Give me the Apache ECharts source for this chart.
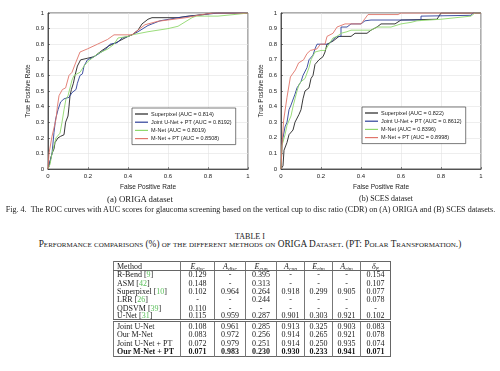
<!DOCTYPE html>
<html><head><meta charset="utf-8">
<script src="https://cdn.jsdelivr.net/npm/echarts@6/dist/echarts.min.js"></script>
<style>
html,body{margin:0;padding:0;background:#fff;width:500px;height:371px;overflow:hidden;-webkit-font-smoothing:antialiased;}
#chart{position:absolute;left:0;top:0;width:500px;height:196px;}
.cap{position:absolute;font-family:'Liberation Serif','DejaVu Serif',serif;color:#222;white-space:nowrap;line-height:1;transform:translate(-50%,-50%);}
#tbl{position:absolute;left:113px;top:261px;border-collapse:collapse;font-family:'Liberation Serif',serif;font-size:8px;color:#1a1a1a;table-layout:fixed;border:1px solid #666;will-change:transform;}
#tbl td{border-left:1px solid #777;padding:0;line-height:7px;text-align:center;white-space:nowrap;overflow:hidden;}
#tbl td.m{text-align:left;padding-left:3px;}
#tbl tr.h td{border-bottom:1px solid #666;}
#tbl tr.dbl td{border-bottom:3px double #666;}
#tbl sub{font-size:5.5px;vertical-align:-1.5px;line-height:0;}
#tbl .c{color:#5cc05c;}
#tbl tr.b td{font-weight:bold;}
</style></head>
<body>
<div id="chart"></div>
<div class="cap" id="capA" style="left:140px;top:199px;">(a) ORIGA dataset</div>
<div class="cap" id="capB" style="left:386px;top:199px;">(b) SCES dataset</div>
<div class="cap" id="figcap" style="left:250.5px;top:210px;">Fig. 4.&nbsp;&nbsp;The ROC curves with AUC scores for glaucoma screening based on the vertical cup to disc ratio (CDR) on (A) ORIGA and (B) SCES datasets.</div>
<div class="cap" id="tabt" style="left:250px;top:237px;">TABLE I</div>
<div class="cap" id="tabc" style="left:250px;top:244.5px;font-variant:small-caps;">Performance comparisons (%) of the different methods on ORIGA Dataset. (PT: Polar Transformation.)</div>
<table id="tbl"></table>
<script>
// ---------- ROC data: ORIGA ----------
const origaSuperFpr = [0,0.005,0.02,0.03,0.035,0.05,0.063,0.08,0.088,0.1,0.105,0.11,0.117,0.127,0.135,0.147,0.163,0.197,0.23,0.25,0.27,0.305,0.34,0.37,0.4,0.42,0.45,0.47,0.5,0.52,0.65,0.7,0.78,0.82,1];
const origaSuperTpr = [0,0.01,0.1,0.13,0.17,0.2,0.21,0.22,0.3,0.34,0.4,0.47,0.51,0.55,0.6,0.66,0.7,0.71,0.72,0.74,0.76,0.79,0.81,0.83,0.85,0.86,0.89,0.93,0.96,0.97,0.97,0.98,0.99,1,1];
const origaJointFpr = [0,0.005,0.02,0.03,0.038,0.05,0.063,0.08,0.105,0.12,0.14,0.147,0.16,0.172,0.18,0.197,0.23,0.255,0.29,0.31,0.347,0.37,0.4,0.42,0.45,0.5,0.56,0.65,0.78,0.85,1];
const origaJointTpr = [0,0.02,0.1,0.235,0.32,0.38,0.43,0.45,0.46,0.49,0.51,0.55,0.6,0.61,0.66,0.7,0.72,0.74,0.77,0.8,0.81,0.84,0.85,0.86,0.88,0.92,0.95,0.97,0.99,1,1];
const origaMnetFpr = [0,0.01,0.02,0.03,0.04,0.06,0.07,0.08,0.09,0.1,0.11,0.12,0.13,0.16,0.18,0.2,0.25,0.3,0.33,0.35,0.4,0.42,0.5,0.6,0.65,0.72,0.74,0.85,0.93,1];
const origaMnetTpr = [0,0.03,0.1,0.15,0.2,0.23,0.3,0.38,0.45,0.47,0.52,0.57,0.6,0.62,0.66,0.69,0.74,0.77,0.8,0.84,0.85,0.86,0.88,0.9,0.915,0.97,0.98,0.98,0.99,1];
const origaMnetPtFpr = [0,0.005,0.02,0.04,0.047,0.055,0.072,0.088,0.105,0.12,0.138,0.16,0.197,0.247,0.297,0.33,0.42,0.45,0.485,0.55,0.69,0.77,0.83,1];
const origaMnetPtTpr = [0,0.1,0.21,0.32,0.4,0.47,0.51,0.52,0.6,0.62,0.68,0.75,0.77,0.8,0.83,0.86,0.86,0.89,0.925,0.947,0.97,0.99,1,1];
// ---------- ROC data: SCES ----------
const scesSuperFpr = [0,0.01,0.015,0.03,0.04,0.06,0.07,0.09,0.1,0.11,0.12,0.14,0.15,0.16,0.17,0.19,0.21,0.22,0.23,0.26,0.29,0.35,0.37,0.43,0.45,0.48,0.5,0.57,0.6,0.78,0.8,1];
const scesSuperTpr = [0,0.02,0.12,0.17,0.22,0.25,0.3,0.35,0.38,0.45,0.5,0.52,0.58,0.6,0.67,0.7,0.72,0.75,0.8,0.82,0.85,0.85,0.87,0.87,0.89,0.91,0.93,0.93,0.955,0.96,1,1];
const scesJointFpr = [0,0.005,0.01,0.02,0.03,0.04,0.05,0.06,0.07,0.08,0.1,0.11,0.13,0.14,0.16,0.17,0.18,0.2,0.24,0.26,0.28,0.3,0.3,0.33,0.35,0.4,0.42,0.45,0.7,0.7,0.95,0.96,1];
const scesJointTpr = [0,0.15,0.2,0.27,0.3,0.38,0.41,0.42,0.48,0.52,0.56,0.6,0.65,0.7,0.73,0.77,0.8,0.8,0.8,0.83,0.85,0.85,0.91,0.91,0.93,0.93,0.95,0.955,0.955,0.98,0.985,1,1];
const scesMnetFpr = [0,0.005,0.02,0.03,0.05,0.06,0.07,0.08,0.09,0.1,0.12,0.14,0.15,0.17,0.2,0.22,0.24,0.26,0.28,0.3,0.33,0.35,0.45,0.48,0.55,0.6,0.65,0.68,0.8,0.95,0.97,1];
const scesMnetTpr = [0,0.15,0.22,0.28,0.34,0.4,0.45,0.5,0.54,0.56,0.58,0.65,0.7,0.75,0.76,0.76,0.8,0.84,0.85,0.87,0.88,0.89,0.89,0.91,0.91,0.93,0.94,0.95,0.96,0.98,1,1];
const scesMnetPtFpr = [0,0.005,0.013,0.03,0.047,0.072,0.088,0.113,0.13,0.147,0.18,0.197,0.22,0.23,0.26,0.28,0.32,0.4,0.41,0.435,0.585,0.6,1];
const scesMnetPtTpr = [0,0.15,0.31,0.46,0.59,0.635,0.68,0.7,0.74,0.76,0.77,0.8,0.8,0.85,0.87,0.91,0.93,0.93,0.947,0.99,0.99,1,1];
// ---------- series names / tick labels ----------
const origaNames = ['Superpixel (AUC = 0.814)','Joint U-Net + PT (AUC = 0.8192)','M-Net (AUC = 0.8019)','M-Net + PT (AUC = 0.8508)'];
const scesNames = ['Superpixel (AUC = 0.822)','Joint U-Net + PT (AUC = 0.8612)','M-Net (AUC = 0.8396)','M-Net + PT (AUC = 0.8998)'];
const xTickLabels = ['0','0.2','0.4','0.6','0.8','1'];
const yTickLabels = ['0','0.1','0.2','0.3','0.4','0.5','0.6','0.7','0.8','0.9','1'];
// ---------- table data ----------
const methods = ['R-Bend','ASM','Superpixel','LRR','QDSVM','U-Net','Joint U-Net','Our M-Net','Joint U-Net + PT','Our M-Net + PT'];
const cites = ['9','42','10','26','39','31','','','',''];
const eDisc = ['0.129','0.148','0.102','-','0.110','0.115','0.108','0.083','0.072','0.071'];
const aDisc = ['-','-','0.964','-','-','0.959','0.961','0.972','0.979','0.983'];
const eCup = ['0.395','0.313','0.264','0.244','-','0.287','0.285','0.256','0.251','0.230'];
const aCup = ['-','-','0.918','-','-','0.901','0.913','0.914','0.914','0.930'];
const eRim = ['-','-','0.299','-','-','0.303','0.325','0.265','0.250','0.233'];
const aRim = ['-','-','0.905','-','-','0.921','0.903','0.921','0.935','0.941'];
const deltaE = ['0.154','0.107','0.077','0.078','-','0.102','0.083','0.078','0.074','0.071'];

const colors = ['#222222','#2d3f98','#8fd86c','#e0756a'];
const zip = (a,b)=>a.map((v,i)=>[v,b[i]]);
const FONT = "'Liberation Sans', Arial, sans-serif";

function axes(i){
  const common = {
    type:'value', gridIndex:i, min:0, max:1, nameLocation:'middle',
    axisLine:{show:true,lineStyle:{color:'#333',width:0.8}},
    axisTick:{show:true,inside:true,length:2,lineStyle:{color:'#333',width:0.6}},
    splitLine:{show:true,lineStyle:{color:'#e2e2e2',width:0.6}},
    nameTextStyle:{fontSize:6.5,color:'#222',fontFamily:FONT}
  };
  return {
    x: Object.assign({}, common, {interval:0.2, name:'False Positive Rate', nameGap:11,
      axisLabel:{fontSize:6,color:'#222',margin:4,fontFamily:FONT,showMinLabel:true,showMaxLabel:true,formatter:v=>xTickLabels[Math.round(v/0.2)]}}),
    y: Object.assign({}, common, {interval:0.1, name:'True Positive Rate', nameGap:16,
      axisLabel:{fontSize:6,color:'#222',margin:4,fontFamily:FONT,showMinLabel:true,showMaxLabel:true,formatter:v=>yTickLabels[Math.round(v*10)]}})
  };
}
const a0 = axes(0), a1 = axes(1);
const datasets = [
  [zip(origaSuperFpr,origaSuperTpr),zip(origaJointFpr,origaJointTpr),zip(origaMnetFpr,origaMnetTpr),zip(origaMnetPtFpr,origaMnetPtTpr)],
  [zip(scesSuperFpr,scesSuperTpr),zip(scesJointFpr,scesJointTpr),zip(scesMnetFpr,scesMnetTpr),zip(scesMnetPtFpr,scesMnetPtTpr)]
];
const names = [origaNames, scesNames];
const series = [];
for (let g=0; g<2; g++){
  for (let k=0;k<4;k++){
    series.push({type:'line', name:names[g][k], xAxisIndex:g, yAxisIndex:g, data:datasets[g][k],
      symbol:'none', lineStyle:{color:colors[k],width:0.9}, itemStyle:{color:colors[k]}, z:2+k, animation:false});
  }
}
const legendBase = {orient:'vertical', backgroundColor:'#fff', borderColor:'#444', borderWidth:0.7,
  padding:[3,4,3,3], itemGap:2.2, itemWidth:13, itemHeight:1.2, icon:'rect',
  textStyle:{fontSize:5.5,color:'#222',fontFamily:FONT,padding:[0,0,0,-2]}};
const chart = echarts.init(document.getElementById('chart'), null, {renderer:'canvas'});
chart.setOption({
  animation:false,
  grid:[
    {left:48, top:13, width:200, height:157, show:true, borderColor:'#333', borderWidth:0.8, backgroundColor:'#fff'},
    {left:281, top:13, width:200, height:156, show:true, borderColor:'#333', borderWidth:0.8, backgroundColor:'#fff'}
  ],
  xAxis:[a0.x, a1.x],
  yAxis:[a0.y, a1.y],
  legend:[
    Object.assign({}, legendBase, {left:132, top:108, data:origaNames}),
    Object.assign({}, legendBase, {left:362, top:107, data:scesNames})
  ],
  series
});

// ---------- table ----------
const tbl = document.getElementById('tbl');
const widths = [67,34,31,31,28,28,28,30];
let html = '<colgroup>' + widths.map(w=>'<col style="width:'+w+'px">').join('') + '</colgroup>';
const sub = (l,s)=>'<i>'+l+'</i><sub><i>'+s+'</i></sub>';
const heads = ['Method', sub('E','disc'), sub('A','disc'), sub('E','cup'), sub('A','cup'), sub('E','rim'), sub('A','rim'), sub('&delta;','E')];
html += '<tr class="h" style="height:9px">' + heads.map((h,i)=>'<td'+(i===0?' class="m"':'')+'>'+h+'</td>').join('') + '</tr>';
for (let r=0;r<methods.length;r++){
  const cls = r===5 ? 'dbl' : (r===9 ? 'b' : '');
  const m = methods[r] + (cites[r] ? ' [<span class="c">'+cites[r]+'</span>]' : '');
  const cells = [eDisc[r],aDisc[r],eCup[r],aCup[r],eRim[r],aRim[r],deltaE[r]];
  html += '<tr class="'+cls+'" style="height:'+(r<6?8.4:8.9)+'px"><td class="m">'+m+'</td>' + cells.map(c=>'<td>'+c+'</td>').join('') + '</tr>';
}
tbl.innerHTML = html;

// ---------- fit caption widths ----------
function fit(id, w){
  const el = document.getElementById(id);
  el.style.fontSize = '10px';
  const r = el.getBoundingClientRect().width;
  el.style.fontSize = (10*w/r) + 'px';
}
fit('capA', 66); fit('capB', 54); fit('figcap', 490); fit('tabt', 30); fit('tabc', 402);
</script>
</body></html>
